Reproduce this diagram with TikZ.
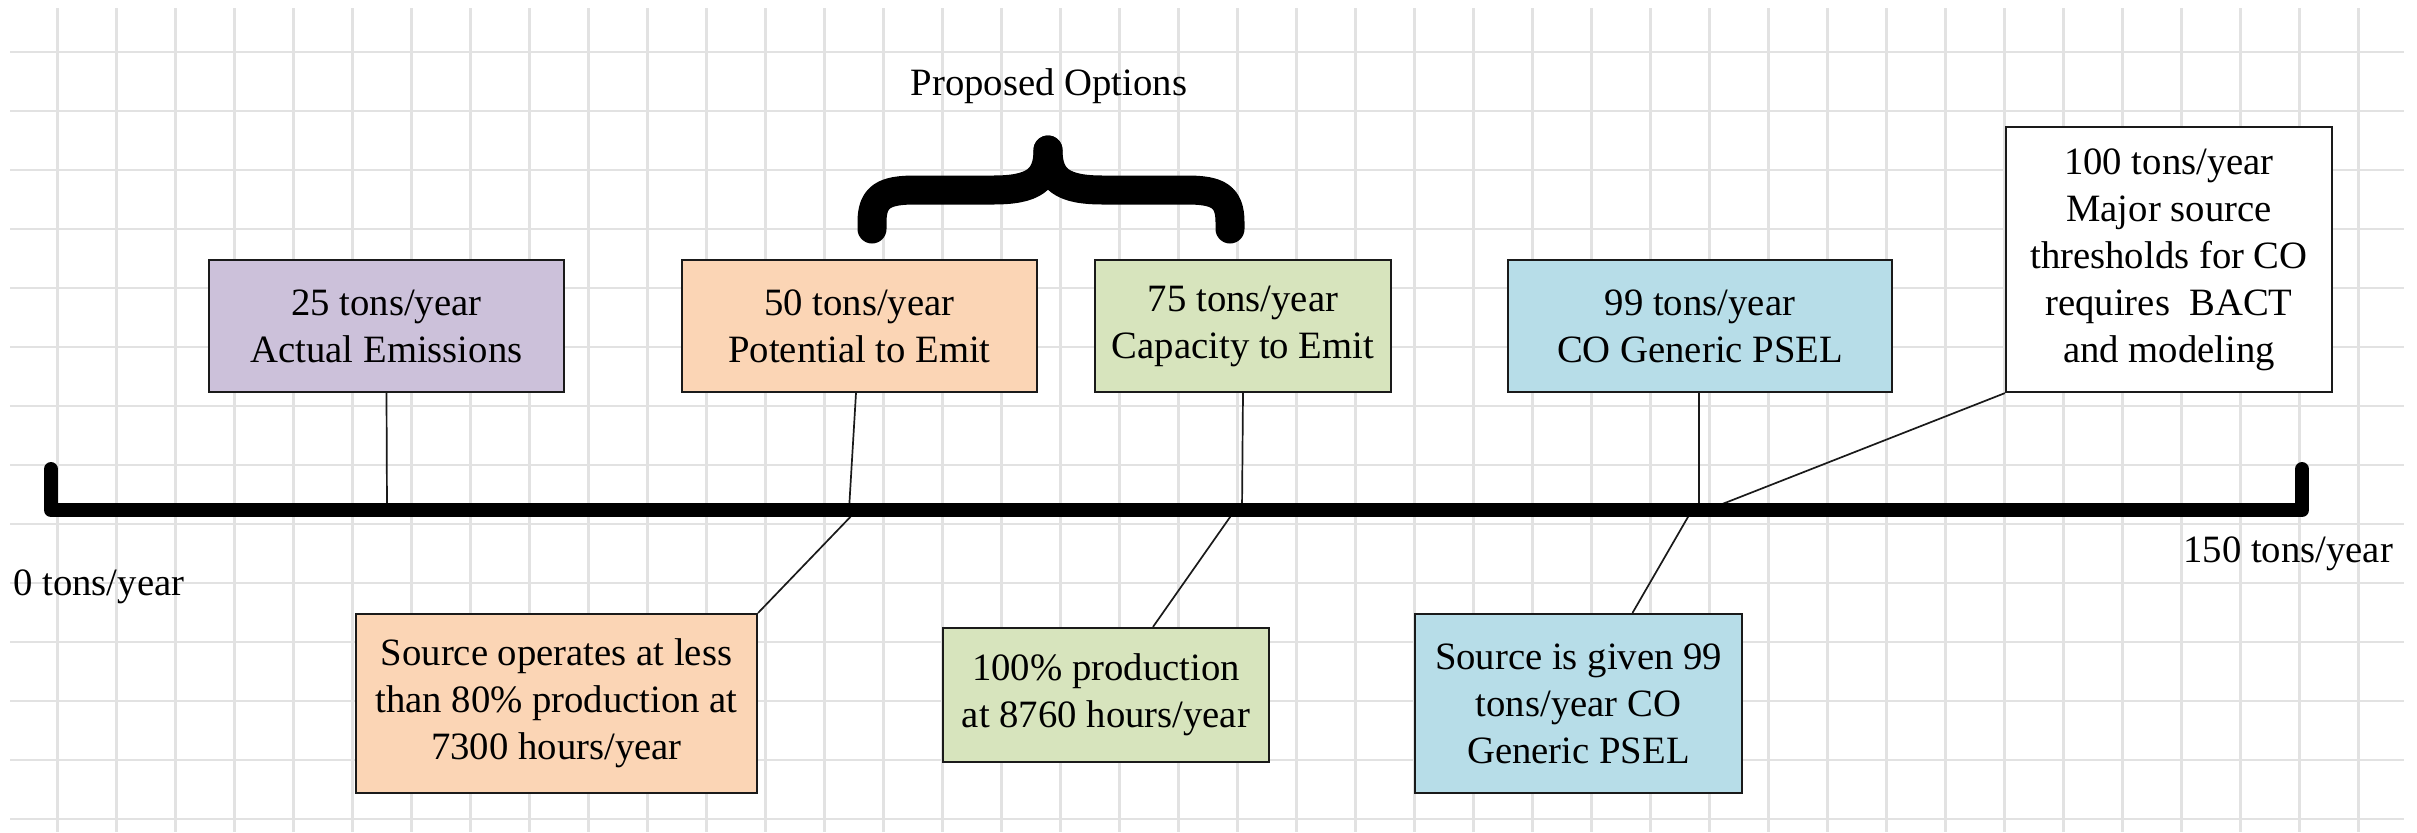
\documentclass[tikz,border=0pt]{standalone}
\usepackage{fontspec}
\setmainfont{Liberation Serif}
\definecolor{cpurple}{HTML}{CCC1DA}
\definecolor{corange}{HTML}{FBD5B5}
\definecolor{cgreen}{HTML}{D7E4BD}
\definecolor{cblue}{HTML}{B7DDE8}
\definecolor{cgrid}{HTML}{E2E2E2}
\definecolor{cline}{HTML}{1A1A1A}
\begin{document}
\begin{tikzpicture}[x=0.5pt,y=-0.5pt,
  txt/.style={font=\fontsize{19.35}{23.5}\selectfont},
  box/.style={txt,draw=cline,line width=1.1pt,align=center,inner sep=0pt},
  conn/.style={draw=cline,line width=0.85pt},
  lbl/.style={txt,inner sep=0pt},
  gridline/.style={cgrid,line width=1.2pt},
  axis/.style={line width=7pt,line cap=round,line join=round},
  bracepath/.style={line width=14.5pt,line cap=round,line join=round}]
\useasboundingbox (0,0) rectangle (2417,832);
\fill[white] (0,0) rectangle (2417,832);
% grid
\foreach \i in {0,...,39} \draw[gridline] ({57.4+59*\i},8) -- ({57.4+59*\i},832);
\foreach \j in {0,...,13} \draw[gridline] (10,{51.7+59*\j}) -- (2404,{51.7+59*\j});
% boxes above the line
\node[box,fill=cpurple,minimum width=177.5pt,minimum height=66pt] (p1) at (386.5,326) {25 tons/year\\Actual Emissions};
\node[box,fill=corange,minimum width=177.5pt,minimum height=66pt] (p2) at (859.5,326) {50 tons/year\\Potential to Emit};
\node[box,fill=cgreen,minimum width=148pt,minimum height=66pt] (p3) at (1243,326) {75 tons/year\\Capacity to Emit};
\node[box,fill=cblue,minimum width=192pt,minimum height=66pt] (p4) at (1700,326) {99 tons/year\\CO Generic PSEL};
\node[box,fill=white,minimum width=163pt,minimum height=132.5pt] (p5) at (2169,259.5) {100 tons/year\\Major source\\thresholds for CO\\requires\ \ BACT\\and modeling};
% boxes below the line
\node[box,fill=corange,minimum width=200.5pt,minimum height=89.5pt] (q1) at (556.5,703.5) {Source operates at less\\than 80\% production at\\7300 hours/year};
\node[box,fill=cgreen,minimum width=163pt,minimum height=67pt] (q2) at (1106,695) {100\% production\\at 8760 hours/year};
\node[box,fill=cblue,minimum width=163.5pt,minimum height=89.5pt] (q3) at (1578.5,703.5) {Source is given 99\\tons/year CO\\Generic PSEL};
% labels
\node[lbl,anchor=base] (po) at (1049,95) {Proposed Options};
\node[lbl,anchor=base west] (zero) at (13,595) {0 tons/year};
\node[lbl,anchor=base west] (max) at (2183,562) {150 tons/year};
% points on the time line
\coordinate (L) at (51,510);
\coordinate (Lt) at (51,469);
\coordinate (R) at (2302,510);
\coordinate (Rt) at (2302,469);
\coordinate (t1) at (387,510);
\coordinate (t2) at (849,510);
\coordinate (t2b) at (857,510);
\coordinate (t3) at (1242,510);
\coordinate (t3b) at (1235,510);
\coordinate (t4) at (1699,510);
\coordinate (t4b) at (1692,510);
\coordinate (t5) at (1707,510);
% connectors
\draw[conn] (p1.south) -- (t1);
\draw[conn] ([xshift=-1.75pt]p2.south) -- (t2);
\draw[conn] (p3.south) -- (t3);
\draw[conn] ([xshift=-0.5pt]p4.south) -- (t4);
\draw[conn] (p5.south west) -- (t5);
\draw[conn] (q1.north east) -- (t2b);
\draw[conn] ([xshift=23.5pt]q2.north) -- (t3b);
\draw[conn] ([xshift=27pt]q3.north) -- (t4b);
% time line
\draw[axis] (Lt) -- (L) -- (R) -- (Rt);
% brace
\coordinate (bl) at (872,229);
\coordinate (br) at (1230,229);
\coordinate (bc) at (1048,150);
\draw[bracepath] (bl) -- (872,222) .. controls (872,196) and (885,190) .. (915,190) -- (993,190) .. controls (1033,190) and (1048,180) .. (bc);
\draw[bracepath] (br) -- (1230,222) .. controls (1230,196) and (1217,190) .. (1187,190) -- (1103,190) .. controls (1063,190) and (1048,180) .. (bc);
\end{tikzpicture}
\end{document}
